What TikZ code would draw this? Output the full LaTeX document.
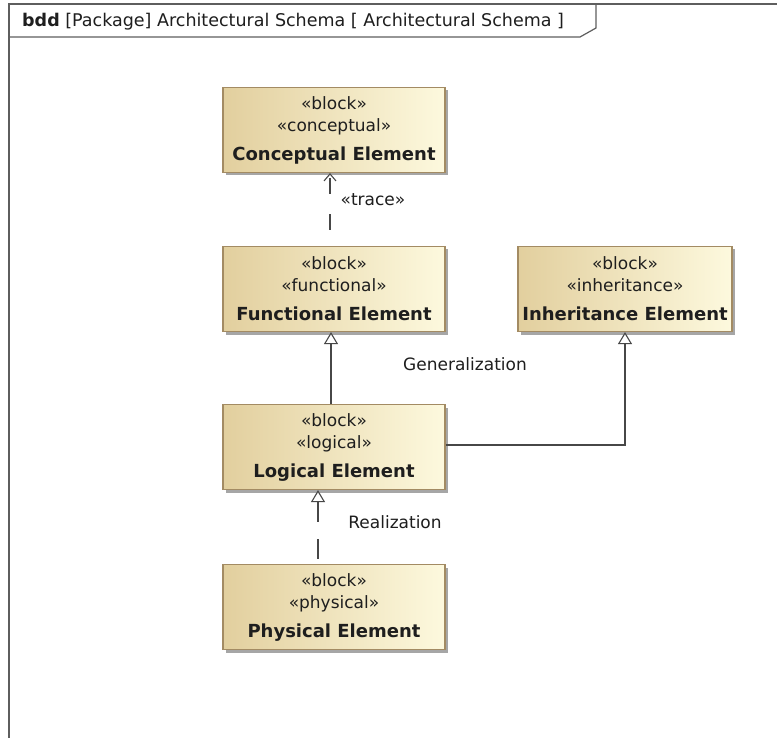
\documentclass[tikz,border=0pt]{standalone}
\usepackage{fontspec}
\setmainfont{DejaVu Sans}
\usetikzlibrary{arrows.meta,shadows}
\definecolor{blockline}{HTML}{A38B63}
\definecolor{blockdark}{HTML}{E2CF9E}
\definecolor{blocklight}{HTML}{FDF9DE}
\definecolor{frameline}{HTML}{5E5E5E}
\definecolor{inktext}{HTML}{1E1E1E}
\newcommand{\elemname}[1]{\\[7pt]{\fontsize{18}{22}\selectfont\bfseries #1}}
\begin{document}
\begin{tikzpicture}[x=1pt,y=-1pt,
  block/.style={draw=blockline, line width=1.2pt, left color=blockdark, right color=blocklight,
    minimum width=222pt, minimum height=85pt, inner sep=0pt, align=center, text=inktext,
    drop shadow={shadow xshift=3pt, shadow yshift=-3pt, opacity=1, fill=black!35},
    font=\fontsize{17}{22}\selectfont},
  conn/.style={draw=black!72, line width=1.1pt},
  gen/.style={conn, -{Triangle[open, width=14pt, length=12pt, fill=white]}},
  real/.style={gen, dash pattern=on 20pt off 17pt, dash phase=32pt},
  trace/.style={conn, -{Straight Barb[length=7pt, width=12pt]}, dash pattern=on 16pt off 20pt, dash phase=20pt},
  lbl/.style={font=\fontsize{17}{20}\selectfont, text=inktext, inner sep=0pt}]
\useasboundingbox (0,0) rectangle (777,738);
\fill[white] (0,0) rectangle (777,738);
\draw[frameline, line width=1.2pt] (777,4) -- (9,4) -- (9,738);
\draw[frameline, line width=1.2pt] (9,37) -- (580,37) -- (596,28) -- (596,4);
\node[anchor=base west, inner sep=0pt, text=inktext, font=\fontsize{17.5}{20}\selectfont] (title) at (22,27)
  {\textbf{bdd} [Package] Architectural Schema [ Architectural Schema ]};

\node[block] (concept) at (334,130) {«block»\\«conceptual»\elemname{Conceptual Element}};
\node[block] (func) at (334,289) {«block»\\«functional»\elemname{Functional Element}};
\node[block, minimum width=214pt] (inherit) at (625,289) {«block»\\«inheritance»\elemname{Inheritance Element}};
\node[block] (logic) at (334,447) {«block»\\«logical»\elemname{Logical Element}};
\node[block] (phys) at (334,607) {«block»\\«physical»\elemname{Physical Element}};

\draw[trace] ([xshift=-4pt]func.north) -- ([xshift=-4pt]concept.south);
\draw[gen] ([xshift=-3pt]logic.north) -- ([xshift=-3pt]func.south);
\draw[gen] ([yshift=2pt]logic.east) -| (inherit.south);
\draw[real] ([xshift=-16pt]phys.north) -- ([xshift=-16pt]logic.south);

\node[lbl] (tracelbl) at (373,200) {«trace»};
\node[lbl] (genlbl) at (465,364) {Generalization};
\node[lbl] (reallbl) at (395,522) {Realization};
\end{tikzpicture}
\end{document}
